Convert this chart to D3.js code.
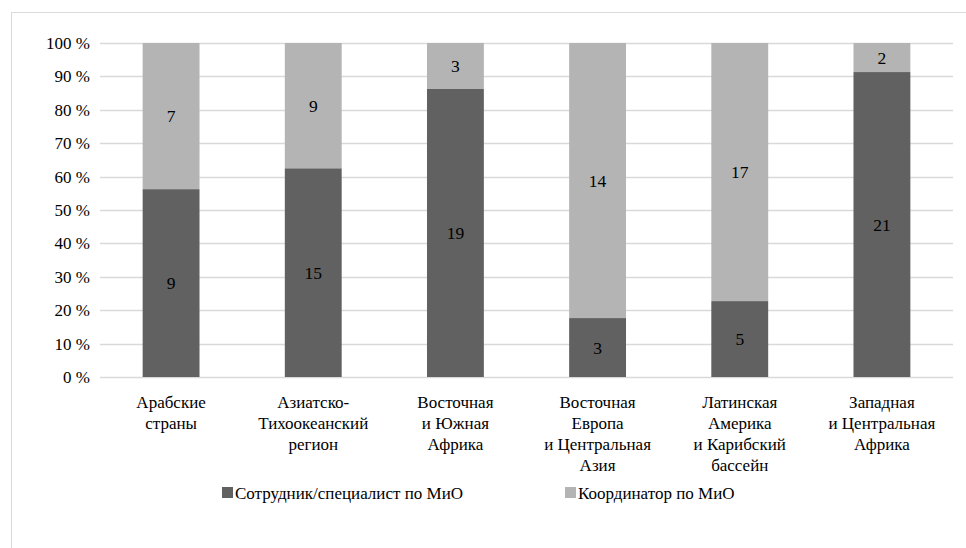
<!DOCTYPE html>
<html>
<head>
<meta charset="utf-8">
<script src="https://cdn.jsdelivr.net/npm/d3@7"></script>
<style>
  body { margin: 0; background: #fff; }
  text, tspan { font-family: "Liberation Serif", Tinos, "Times New Roman", serif; }
</style>
</head>
<body>
<svg class="main-svg" width="966" height="548"></svg>
<script>
'use strict'

// categories (multi-line labels)
const regions = [
  ['Арабские', 'страны'],
  ['Азиатско-', 'Тихоокеанский', 'регион'],
  ['Восточная', 'и Южная', 'Африка'],
  ['Восточная', 'Европа', 'и Центральная', 'Азия'],
  ['Латинская', 'Америка', 'и Карибский', 'бассейн'],
  ['Западная', 'и Центральная', 'Африка']
]
const officers = [9, 15, 19, 3, 5, 21]
const coordinators = [7, 9, 3, 14, 17, 2]
const seriesNames = ['Сотрудник/специалист по МиО', 'Координатор по МиО']
const yTicks = [0, 10, 20, 30, 40, 50, 60, 70, 80, 90, 100]

const FONT = '"Liberation Serif", Tinos, "Times New Roman", serif'
const colors = ['#616161', '#b4b4b4']
const margin = { top: 43, right: 13, bottom: 171, left: 100 }
const width = 966, height = 548
const innerW = width - margin.left - margin.right
const innerH = height - margin.top - margin.bottom

const svg = d3.select('.main-svg').style('font-family', FONT)

// outer chart border
svg.append('rect')
  .attr('x', 11.5).attr('y', 12.5)
  .attr('width', width).attr('height', height)
  .attr('fill', 'none').attr('stroke', '#d9d9d9')

const idx = d3.range(regions.length)
const x = d3.scaleBand().domain(idx).range([margin.left, margin.left + innerW]).paddingInner(0.6).paddingOuter(0.3)
const y = d3.scaleLinear().domain([0, 100]).range([margin.top + innerH, margin.top])

// gridlines
svg.append('g').selectAll('line').data(yTicks).join('line')
  .attr('x1', margin.left).attr('x2', margin.left + innerW)
  .attr('y1', d => Math.round(y(d)) + 0.5).attr('y2', d => Math.round(y(d)) + 0.5)
  .attr('stroke', '#d9d9d9').attr('stroke-width', 1.3)

// stacked bars
const rows = idx.map(i => {
  const total = officers[i] + coordinators[i]
  return { i, vals: [officers[i], coordinators[i]], total }
})
const labels = []
rows.forEach(r => {
  let acc = 0
  r.vals.forEach((v, s) => {
    const y0 = acc / r.total * 100
    const y1 = (acc + v) / r.total * 100
    acc += v
    svg.append('rect')
      .attr('x', x(r.i)).attr('width', x.bandwidth())
      .attr('y', y(y1)).attr('height', y(y0) - y(y1))
      .attr('fill', colors[s])
    labels.push({ x: x(r.i) + x.bandwidth() / 2, y: (y(y0) + y(y1)) / 2, v })
  })
})

// y tick labels
svg.append('g').selectAll('text').data(yTicks).join('text')
  .attr('x', margin.left - 10).attr('y', d => y(d))
  .attr('dy', '0.35em').attr('text-anchor', 'end')
  .attr('font-family', FONT).style('font-family', FONT)
  .attr('font-size', 17).attr('fill', '#000')
  .text(d => d + ' %')

// value labels
svg.append('g').selectAll('text').data(labels).join('text')
  .attr('x', d => d.x).attr('y', d => d.y)
  .attr('dy', '0.35em').attr('text-anchor', 'middle')
  .attr('font-family', FONT).style('font-family', FONT)
  .attr('font-size', 17.5).attr('fill', '#000')
  .text(d => d.v)

// category labels
const cat = svg.append('g').selectAll('text').data(idx).join('text')
  .attr('x', i => x(i) + x.bandwidth() / 2)
  .attr('y', margin.top + innerH + 31)
  .attr('text-anchor', 'middle')
  .attr('font-family', FONT).style('font-family', FONT)
  .attr('font-size', 17).attr('fill', '#000')
cat.each(function (i) {
  d3.select(this).selectAll('tspan').data(regions[i]).join('tspan')
    .attr('x', x(i) + x.bandwidth() / 2)
    .attr('dy', (d, k) => k === 0 ? 0 : 21)
    .style('font-family', FONT)
    .text(d => d)
})

// legend
const legendX = [222, 565]
seriesNames.forEach((name, s) => {
  svg.append('rect')
    .attr('x', legendX[s]).attr('y', 487)
    .attr('width', 11).attr('height', 11)
    .attr('fill', colors[s])
  svg.append('text')
    .attr('x', legendX[s] + 13).attr('y', 493)
    .attr('dy', '0.35em')
    .attr('font-family', FONT).style('font-family', FONT)
    .attr('font-size', 17).attr('fill', '#000')
    .text(name)
})
</script>
</body>
</html>
